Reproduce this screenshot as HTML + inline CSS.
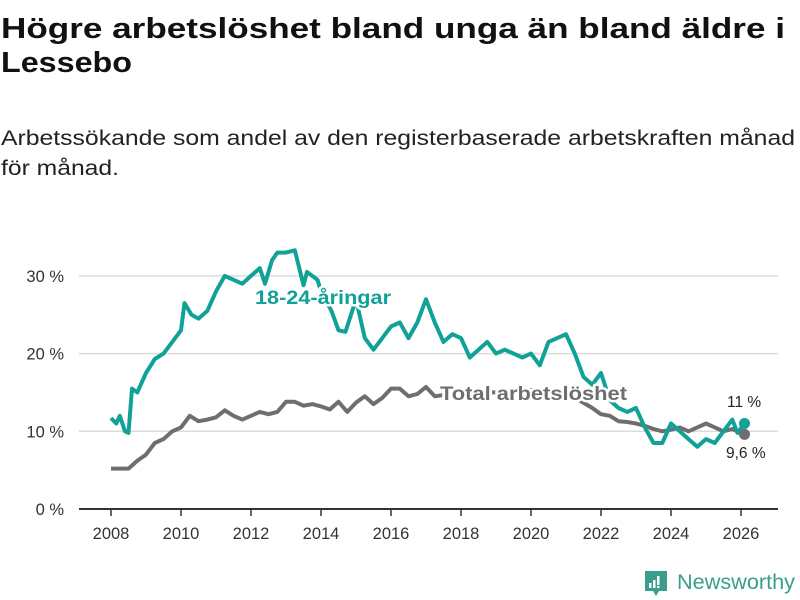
<!DOCTYPE html>
<html><head><meta charset="utf-8"><style>
html,body{margin:0;padding:0;background:#fff;}
svg{display:block;font-family:"Liberation Sans","DejaVu Sans",sans-serif;}
</style></head><body>
<svg id="chart" width="800" height="600" viewBox="0 0 800 600" xmlns="http://www.w3.org/2000/svg">
<text x="1" y="38" font-size="29" font-weight="bold" fill="#111" textLength="784" lengthAdjust="spacingAndGlyphs">Högre arbetslöshet bland unga än bland äldre i</text>
<text x="1" y="72" font-size="29" font-weight="bold" fill="#111" textLength="131" lengthAdjust="spacingAndGlyphs">Lessebo</text>
<text x="1" y="145" font-size="21" fill="#222" textLength="794" lengthAdjust="spacingAndGlyphs">Arbetssökande som andel av den registerbaserade arbetskraften månad</text>
<text x="1" y="175" font-size="21" fill="#222" textLength="118" lengthAdjust="spacingAndGlyphs">för månad.</text>
<g id="grid"></g>
<g id="axes"></g>
<g id="lines"></g>
<g id="labels"></g>
<g>
<path d="M645 571 h22 v20 h-8 l-3 5 l-3 -5 h-8 z" fill="#3a9e8e"/>
<rect x="649" y="583" width="2.5" height="5" fill="#fff"/><rect x="653" y="580" width="2.5" height="8" fill="#fff"/><rect x="657" y="576" width="2.5" height="9" fill="#fff"/><rect x="657" y="586" width="2.5" height="2" fill="#fff"/>
<text x="677" y="589" font-size="21" fill="#3a9e8e" textLength="118" lengthAdjust="spacingAndGlyphs">Newsworthy</text>
</g>
</svg>
<script>
const yTicks=[0,10,20,30];
const yTickLabels=["0 %","10 %","20 %","30 %"];
const xTicks=[2008,2010,2012,2014,2016,2018,2020,2022,2024,2026];
const youngT=[2008.0,2008.15,2008.25,2008.4,2008.5,2008.6,2008.75,2009.0,2009.25,2009.5,2009.75,2010.0,2010.1,2010.3,2010.5,2010.75,2011.0,2011.25,2011.5,2011.75,2012.0,2012.25,2012.4,2012.6,2012.75,2013.0,2013.25,2013.5,2013.6,2013.9,2014.0,2014.3,2014.5,2014.7,2015.0,2015.25,2015.5,2015.75,2016.0,2016.25,2016.5,2016.75,2017.0,2017.25,2017.5,2017.75,2018.0,2018.25,2018.5,2018.75,2019.0,2019.25,2019.5,2019.75,2020.0,2020.25,2020.5,2020.75,2021.0,2021.25,2021.5,2021.75,2022.0,2022.25,2022.5,2022.75,2023.0,2023.25,2023.5,2023.75,2024.0,2024.25,2024.5,2024.75,2025.0,2025.25,2025.5,2025.75,2025.9,2026.1];
const youngV=[11.7,11.0,12.0,10.0,9.8,15.5,15.0,17.5,19.3,20.0,21.5,23.0,26.5,25.0,24.5,25.5,28.0,30.0,29.5,29.0,30.0,31.0,29.0,32.0,33.0,33.0,33.3,28.8,30.5,29.5,28.0,25.5,23.0,22.8,27.0,22.0,20.5,22.0,23.5,24.0,22.0,24.0,27.0,24.0,21.5,22.5,22.0,19.5,20.5,21.5,20.0,20.5,20.0,19.5,20.0,18.5,21.5,22.0,22.5,20.0,17.0,16.0,17.5,14.0,13.0,12.5,13.0,10.5,8.5,8.5,11.0,10.0,9.0,8.0,9.0,8.5,10.0,11.5,9.8,11.0];
const totalT=[2008.0,2008.5,2008.75,2009.0,2009.25,2009.5,2009.75,2010.0,2010.25,2010.5,2010.75,2011.0,2011.25,2011.5,2011.75,2012.0,2012.25,2012.5,2012.75,2013.0,2013.25,2013.5,2013.75,2014.0,2014.25,2014.5,2014.75,2015.0,2015.25,2015.5,2015.75,2016.0,2016.25,2016.5,2016.75,2017.0,2017.25,2018.0,2019.0,2020.0,2021.0,2021.75,2022.0,2022.25,2022.5,2022.75,2023.0,2023.25,2023.5,2023.75,2024.0,2024.25,2024.5,2024.75,2025.0,2025.25,2025.5,2025.75,2026.1];
const totalV=[5.2,5.2,6.2,7.0,8.5,9.0,10.0,10.5,12.0,11.3,11.5,11.8,12.7,12.0,11.5,12.0,12.5,12.2,12.5,13.8,13.8,13.3,13.5,13.2,12.8,13.8,12.5,13.7,14.5,13.5,14.3,15.5,15.5,14.5,14.8,15.7,14.5,15.0,15.0,15.3,15.0,13.0,12.2,12.0,11.3,11.2,11.0,10.7,10.3,10.0,10.2,10.5,10.0,10.5,11.0,10.5,10.0,10.3,9.6];
const NS="http://www.w3.org/2000/svg";
const x=t=>111+35*(t-2008);
const y=v=>509-7.77*v;
function mk(tag,attrs,parent){const e=document.createElementNS(NS,tag);for(const k in attrs)e.setAttribute(k,attrs[k]);parent.appendChild(e);return e;}
const grid=document.getElementById('grid'),axes=document.getElementById('axes'),lines=document.getElementById('lines'),labels=document.getElementById('labels');
yTicks.forEach((v,i)=>{
  if(v>0){const g=mk('line',{x1:79,x2:778,y1:y(v),y2:y(v),stroke:'#dcdcdc','stroke-width':1.5},grid);
  
  }
  const t=mk('text',{x:64,y:y(v)+6,'font-size':16.5,fill:'#333','text-anchor':'end'},axes);t.textContent=yTickLabels[i];
  
  
});
const base=mk('line',{x1:79,x2:778,y1:y(0),y2:y(0),stroke:'#333','stroke-width':2},axes);


xTicks.forEach(t=>{
  const tk=mk('line',{x1:x(t),x2:x(t),y1:y(0),y2:y(0)+7,stroke:'#333','stroke-width':1.5},axes);
  
  
  const l=mk('text',{x:x(t),y:539,'font-size':16.5,fill:'#333','text-anchor':'middle'},axes);l.textContent=t;
  
  
});
function path(T,V){return T.map((t,i)=>(i?'L':'M')+x(t).toFixed(1)+' '+y(V[i]).toFixed(1)).join(' ');}
const pt=mk('path',{d:path(totalT,totalV),fill:'none',stroke:'#6e6e70','stroke-width':4,'stroke-linejoin':'round'},lines);


const py=mk('path',{d:path(youngT,youngV),fill:'none',stroke:'#10a197','stroke-width':4,'stroke-linejoin':'round'},lines);


const dt=mk('circle',{cx:x(totalT[totalT.length-1]),cy:y(totalV[totalV.length-1]),r:5.5,fill:'#6e6e70'},lines);


const dy=mk('circle',{cx:x(youngT[youngT.length-1]),cy:y(youngV[youngV.length-1]),r:5.5,fill:'#10a197'},lines);


function lab(txt,xx,yy,col,fs,fw,name,len){const t=mk('text',{x:xx,y:yy,'font-size':fs,'font-weight':fw,fill:col,stroke:'#fff','stroke-width':5,'paint-order':'stroke','stroke-linejoin':'round'},labels);
if(len){t.setAttribute('textLength',len);t.setAttribute('lengthAdjust','spacingAndGlyphs');}
t.textContent=txt;

}
lab('18-24-åringar',255,304,'#10a197',19,'bold','young-series-label',136);
lab('Total arbetslöshet',440,400,'#6e6e70',19,'bold','total-series-label',187);
lab('11 %',727,407,'#222',15.5,'normal','young-end-value');
lab('9,6 %',726,458,'#222',15.5,'normal','total-end-value');
</script>
</body></html>
